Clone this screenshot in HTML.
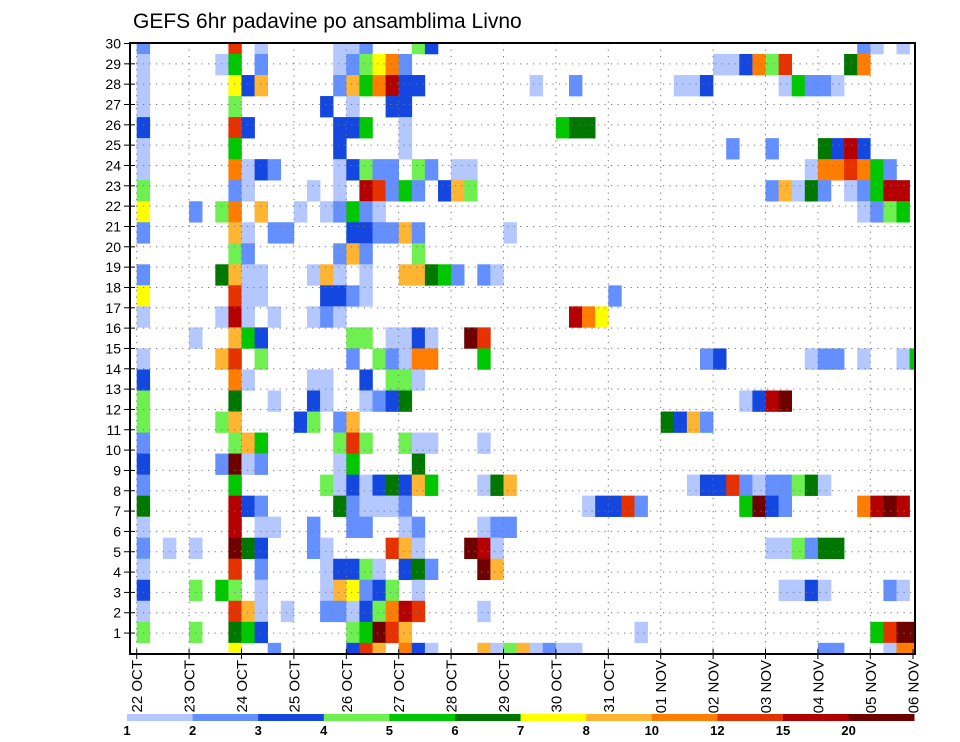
<!DOCTYPE html>
<html><head><meta charset="utf-8"><style>
html,body{margin:0;padding:0;background:#fff;}
svg{display:block;font-family:"Liberation Sans",sans-serif;}
</style></head><body>
<svg id="chart" width="960" height="742" viewBox="0 0 960 742" xmlns="http://www.w3.org/2000/svg">
<rect width="960" height="742" fill="#fff"/>
<text x="133" y="28" font-size="21" fill="#000">GEFS 6hr padavine po ansamblima Livno</text>
<g id="cells"></g>
<g id="grid"></g>
<rect x="130" y="43" width="785" height="611" fill="none" stroke="#000" stroke-width="2"/>
<g id="yaxis"></g>
<g id="xaxis"></g>
<g id="legend"></g>
</svg>
<script>
// Category levels (mm) and colors
const levelLabels = ["1","2","3","4","5","6","7","8","10","12","15","20"];
const levelColors = ["#b4c8ff","#6490ff","#1446e0","#6ef050","#00c800","#007800","#ffff00","#ffb432","#ff7d00","#e63200","#b40000","#6e0000"];
// Day tick labels
const dayLabels = ["22 OCT","23 OCT","24 OCT","25 OCT","26 OCT","27 OCT","28 OCT","29 OCT","30 OCT","31 OCT","01 NOV","02 NOV","03 NOV","04 NOV","05 NOV","06 NOV"];
// Ensemble member labels
const memberLabels = [1,2,3,4,5,6,7,8,9,10,11,12,13,14,15,16,17,18,19,20,21,22,23,24,25,26,27,28,29,30];
const E = "....";
// Rows top->bottom; 15 day groups of four 6h steps; char = level index ('.'=none, 1..9, A=10, B=11, C=12)
const rowGroups = [
["2...","...A",".1..","...1","12..",".43.",E,E,E,E,E,E,E,"...2","1.1."],
["1...","..15",".2..","...1","2479","2...",E,E,E,E,E,"1139","4A..","..69",E],
["1...","...7","38..","...2","859B","33..",E,"..1.",".2..",E,".113",E,".152","21..",E],
["1...","...4",E,"..3.","1..3","3...",E,E,E,E,E,E,E,E,E],
["3...","...A","3...","...3","35..","1...",E,E,"566.",E,E,E,E,E,E],
["1...","...5",E,"...3",E,"1...",E,E,E,E,E,".2..","2...","63B3",E],
["1...","...9","132.","...1","3422",".42.","11..",E,E,E,E,E,"...1","99A9","52.."],
["4...","...2","1...",".1.1",".BA2","52.3","84..",E,E,E,E,E,"2816","2.12","5BB."],
["7...","2.49",".8..","1.12","521.",E,E,E,E,E,E,E,E,"...1","245."],
["2...","...8","1.22",E,"3322","82..",E,"1...",E,E,E,E,E,E,E],
[E,"...4","2...","...2","82..",".4..",E,E,E,E,E,E,E,E,E],
["2...","..68","11..",".181",".1..","8865","2.21",E,E,E,E,E,E,E,E],
["7...","...A","11..","..33","21..",E,E,E,E,"2...",E,E,E,E,E],
["1...","..1B","1.1.",".121",E,E,E,E,".B97",E,E,E,E,E,E],
[E,"1..8","53..",E,"44.1","131.",".CA.",E,E,E,E,E,E,E,E],
["1...","..8A",".4..",E,"2.42","199.","..5.",E,E,E,"...2","3...","...1","22.1","..15"],
["3...","...9","1...",".11.",".3.4","41..",E,E,E,E,E,E,E,E,E],
["4...","...6","..1.",".31.",".123","6...",E,E,E,E,E,"..13","BC..",E,E],
["4...","..48",E,"34.2","8...",E,E,E,E,E,"6382",E,E,E,E],
["2...","...4","85..","...4","A4..","411.","..1.",E,E,E,E,E,E,E,E],
["3...","..2C","12..","...1","5...",".6..",E,E,E,E,E,E,E,E,E],
["2...","...5",E,"..41","3136","385.","..16","8...",E,E,"..13","3A21","2246","1...",E],
["6...","...B","32..","...6","2111","2...",E,E,"..13","3A2.",E,"..5C","32..","...9","BCB."],
["1...","...B",".11.",".2..","22..","12..","..12","2...",E,E,E,E,E,E,E],
["2.1.","1..C","63..",".21.","...A","81..",".CB1",E,E,E,E,E,"1142","66..",E],
["1...","...A",".2..","..13","341.","362.","..C8",E,E,E,E,E,E,E,E],
["3...","4.54",".1..","..18","7234",".1..",E,E,E,E,E,E,".113","1...",".21."],
["1...","...A","81.1","..22","1349","BA..","..1.",E,E,E,E,E,E,E,E],
["4...","4..6","53..",E,"45CA","8...",E,E,E,"..1.",E,E,E,E,"5ACC"],
[E,"...7","..2.",E,"3A8.","931.","..81","4812","11..",E,E,E,E,"22..",".199"]
];
</script>
<script>
const nCols = 60;
const rows = rowGroups.map(g => g.join(''));
const X0 = 136.7, DAY = 52.4, COL = DAY / 4;
function xScale(step){ return X0 + step * COL; }
function rowTop(v){ return v === 0 ? 43 : 54 + (v - 1) * 21.03; }
function rowBottom(v){ return v === 29 ? 654 : (v === 0 ? 54 : 54 + v * 21.03); }
function tickY(member){ return 43.5 + (30 - member) * 20.33; }
function codeToLevel(c){ if (c === '.') return 0; if (c === 'A') return 10; if (c === 'B') return 11; if (c === 'C') return 12; return parseInt(c, 10) || 0; }
const NS = "http://www.w3.org/2000/svg";
function mk(tag, attrs, parent){ const e = document.createElementNS(NS, tag); for (const k in attrs) e.setAttribute(k, attrs[k]); parent.appendChild(e); return e; }

const cells = document.getElementById('cells');
rows.forEach((s, v) => {
  for (let j = 0; j < nCols && j < s.length; j++) {
    const lv = codeToLevel(s[j]);
    if (!lv) continue;
    const x = xScale(j), x2 = Math.min(xScale(j + 1), 915);
    const y = rowTop(v), y2 = rowBottom(v);
    const r = mk('rect', {x: x.toFixed(2), y: y.toFixed(2), width: (x2 - x + 0.3).toFixed(2), height: (y2 - y + 0.3).toFixed(2), fill: levelColors[lv - 1]}, cells);
    
    
  }
});

const grid = document.getElementById('grid');
memberLabels.forEach(m => {
  const y = tickY(m);
  const l = mk('line', {x1: 130, x2: 915, y1: y, y2: y, stroke: '#777', 'stroke-width': 1, 'stroke-dasharray': '1.2 5.3'}, grid);
  
  
});
dayLabels.forEach((d, i) => {
  const x = X0 + i * DAY;
  if (x > 914) return;
  const l = mk('line', {x1: x, x2: x, y1: 43, y2: 654, stroke: '#777', 'stroke-width': 1, 'stroke-dasharray': '1.2 5.3'}, grid);
  
  
});

const yaxis = document.getElementById('yaxis');
memberLabels.forEach(m => {
  const y = tickY(m);
  const t = mk('line', {x1: 124, x2: 135, y1: y, y2: y, stroke: '#000', 'stroke-width': 1}, yaxis);
  
  
  const tx = mk('text', {x: 121, y: y + 5, 'text-anchor': 'end', 'font-size': 14, fill: '#000'}, yaxis);
  tx.textContent = m;
  
  
});

const xaxis = document.getElementById('xaxis');
dayLabels.forEach((d, i) => {
  const x = Math.min(X0 + i * DAY, 913);
  const t = mk('line', {x1: x, x2: x, y1: 649, y2: 659, stroke: '#000', 'stroke-width': 1}, xaxis);
  
  
  const tx = mk('text', {x: 0, y: 0, 'text-anchor': 'end', 'font-size': 15, fill: '#000', transform: `translate(${(x + 5.5).toFixed(1)},660) rotate(-90)`}, xaxis);
  tx.textContent = d;
  
  
});

const legend = document.getElementById('legend');
const LX = 127, LW = 65.6;
levelColors.forEach((c, i) => {
  const r = mk('rect', {x: LX + i * LW, y: 714, width: LW + 0.3, height: 7, fill: c}, legend);
  
  
});
levelLabels.forEach((l, i) => {
  const t = mk('text', {x: LX + i * LW, y: 735, 'text-anchor': 'middle', 'font-size': 13, 'font-weight': 'bold', fill: '#000'}, legend);
  t.textContent = l;
  
  
});
</script>
</body></html>
